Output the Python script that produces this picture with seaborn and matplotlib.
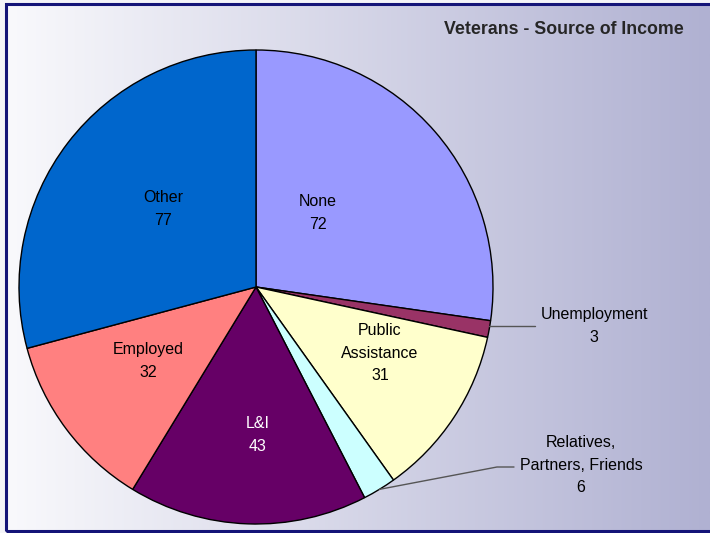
import numpy as np
import matplotlib
matplotlib.use("Agg")
import matplotlib.pyplot as plt
from matplotlib.colors import LinearSegmentedColormap
from matplotlib.patches import Rectangle
import seaborn as sns

sns.set_style("white")
plt.rcParams["font.family"] = ["Liberation Sans", "DejaVu Sans"]

# data, clockwise from 12 o'clock
sources = ["None", "Unemployment", "Public\nAssistance", "Relatives,\nPartners, Friends",
           "L&I", "Employed", "Other"]
counts = [72, 3, 31, 6, 43, 32, 77]
slice_colors = ["#9999ff", "#993366", "#ffffcc", "#ccffff", "#660066", "#ff8080", "#0066cc"]
text_colors = ["black", "black", "black", "black", "white", "black", "black"]

# label placement in pixel units (y up), outside labels get a leader line
label_xy = [(318, 320), (594, 207), (380, 180), (581, 68), (258, 98), (148, 172), (163, 324)]
outside = [False, True, False, True, False, False, False]

W, H = 710, 533
cx, cy, r = 256, 246, 237

fig = plt.figure(figsize=(W / 100, H / 100), dpi=100)
fig.patch.set_facecolor("#f4f4f8")
ax = fig.add_axes([0, 0, 1, 1])

# gradient background
grad = np.linspace(0, 1, 256).reshape(1, -1)
cmap = LinearSegmentedColormap.from_list("bg", ["#f9f9fc", "#b0b1d2"])
ax.imshow(grad, cmap=cmap, extent=(6, W, 2, H - 4), aspect="auto", zorder=0)
ax.add_patch(Rectangle((6, 2), W + 10, H - 6, fill=False, edgecolor="#141478", lw=2.2, zorder=5))

wedges, _ = ax.pie(counts, colors=slice_colors, startangle=90, counterclock=False,
                   radius=r, center=(cx, cy),
                   wedgeprops=dict(edgecolor="black", linewidth=1))
for w in wedges:
    w.set_zorder(2)

for w, name, n, (tx, ty), out, tc in zip(wedges, sources, counts, label_xy, outside, text_colors):
    ax.text(tx, ty, f"{name}\n{n}", ha="center", va="center", fontsize=11.5,
            color=tc, linespacing=1.65, zorder=4)
    if out:
        mid = np.deg2rad((w.theta1 + w.theta2) / 2)
        ex, ey = cx + r * np.cos(mid), cy + r * np.sin(mid)
        if name == "Unemployment":
            ax.plot([ex, 535], [ey + 3, ey + 3], color="#555555", lw=1, zorder=3)
        else:
            ax.plot([ex, 497, 514], [ey, 66, 66], color="#555555", lw=1, zorder=3)

ax.text(684, 503, "Veterans - Source of Income", ha="right", va="center",
        fontsize=12.8, fontweight="bold", zorder=4)

ax.set_xlim(0, W)
ax.set_ylim(0, H)
ax.set_aspect("auto")
ax.axis("off")

fig.savefig("out.png", dpi=100)
